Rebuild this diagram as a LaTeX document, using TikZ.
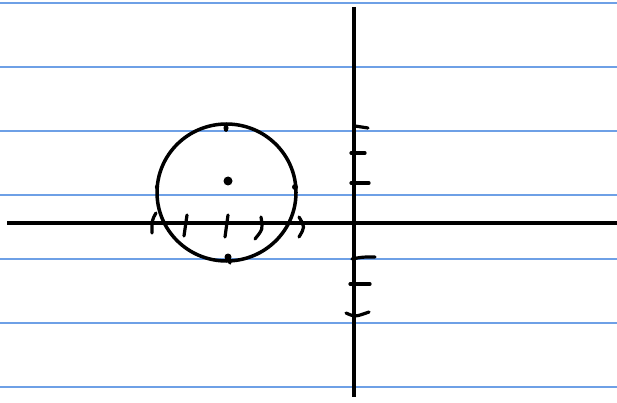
\documentclass[tikz,border=0pt]{standalone}
\begin{document}
\begin{tikzpicture}[x=1pt,y=-1pt,
  rule/.style={draw={rgb,255:red,110;green,160;blue,230},line width=1.3pt},
  pen/.style={draw=black,line width=3.5pt,line cap=round},
  tick/.style={draw=black,line width=3.2pt,line cap=round}]
\useasboundingbox (0,0) rectangle (617,403);
\fill[white] (0,0) rectangle (617,403);
% notebook rules
\foreach \yy in {3,67,131,195,259,323,387}
  \draw[rule] (0,\yy) -- (617,\yy);
% axes
\coordinate (xl) at (7,223);
\coordinate (xr) at (617,223);
\coordinate (yt) at (354,7);
\coordinate (yb) at (354,397);
\draw[pen,line cap=butt] (xl) -- (xr);
\draw[pen,line cap=butt] (yt) -- (yb);
% circle
\coordinate (c) at (226.5,192.5);
\draw[pen] (c) ellipse [x radius=69.5, y radius=68.5];
% dots
\fill (228,181) circle (4.5);
\fill (226,128) ellipse [x radius=2.5, y radius=4];
\fill (228,257) circle (3.5);
\draw[tick] (228,257) -- (230,263);
\fill (157,187) circle (2.2);
\fill (295,187) circle (3);
% x-axis ticks
\draw[tick] (156,213) .. controls (152,220) .. (152,233);
\draw[tick] (187,215) -- (184,236);
\draw[tick] (228,215) -- (225,237);
\draw[tick] (261,217) .. controls (263,229) .. (255,239);
\draw[tick] (299,217) .. controls (305,227) .. (299,237);
% y-axis ticks
\draw[tick] (355,126) -- (368,128);
\draw[tick] (351,153) -- (365,153);
\draw[tick] (351,183) -- (369,183);
\draw[tick] (352,259) .. controls (362,257) .. (375,257);
\draw[tick] (350,284) -- (370,284);
\draw[tick] (346,313) .. controls (355,317) .. (369,312);
\end{tikzpicture}
\end{document}
